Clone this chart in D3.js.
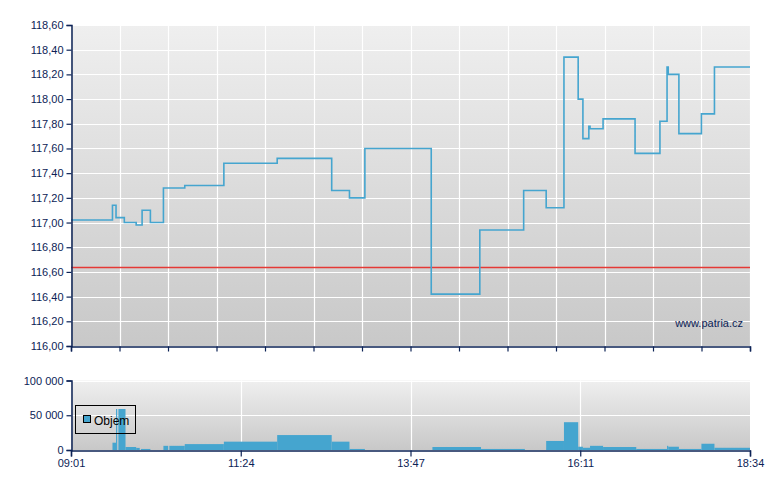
<!DOCTYPE html>
<html><head><meta charset="utf-8">
<script src="https://cdn.jsdelivr.net/npm/d3@7"></script>
<style>
body{margin:0;background:#fff;}
svg{display:block;font-family:"Liberation Sans",Arial,sans-serif;}
</style></head><body>
<svg id="c" width="780" height="490"></svg>
<script>
// ---- data ----
const priceTimes = ["09:01","09:36","09:39","09:46","09:56","10:01","10:08","10:19","10:37","11:10","11:55","12:41","12:56","13:09","14:05","14:46","15:23","15:42","15:57","16:09","16:13","16:18","16:19","16:30","16:57","17:18","17:24","17:25","17:34","17:53","18:04","18:34"];
const priceValues = [117.02,117.14,117.04,117.00,116.98,117.10,117.00,117.28,117.30,117.48,117.52,117.26,117.20,117.60,116.42,116.94,117.26,117.12,118.34,118.00,117.68,117.78,117.76,117.84,117.56,117.82,118.26,118.20,117.72,117.88,118.26,118.26];
const referencePrice = 116.64;

const volStart = ["09:36","09:39","09:41","09:47","09:56","10:00","10:19","10:24","10:37","11:10","11:55","12:41","12:56","14:06","14:47","15:42","15:57","16:09","16:13","16:19","16:30","16:58","17:24","17:25","17:34","17:53","18:04"];
const volEnd   = ["09:39","09:40","09:47","09:56","09:59","10:08","10:23","10:37","11:10","11:55","12:41","12:56","13:09","14:47","15:24","15:57","16:09","16:13","16:19","16:30","16:58","17:24","17:25","17:34","17:53","18:04","18:34"];
const volValues = [10500,59000,59000,4300,3000,1500,6000,6000,8500,12000,21500,12000,1500,4300,1500,13000,40000,4700,3200,6000,4300,1500,6000,4700,1500,9000,3200];

const priceTicks = [116.0,116.2,116.4,116.6,116.8,117.0,117.2,117.4,117.6,117.8,118.0,118.2,118.4,118.6];
const volTicks = [0,50000,100000];
const timeLabels = ["09:01","11:24","13:47","16:11","18:34"];
const legendLabel = "Objem";
const watermark = "www.patria.cz";

// ---- helpers ----
const toMin = s => { const [h,m] = s.split(":").map(Number); return h*60+m; };
const t0 = toMin(timeLabels[0]), t1 = toMin(timeLabels[timeLabels.length-1]);

const svg = d3.select("#c");
const L = 71, R = 750;
const x = d3.scaleLinear().domain([t0,t1]).range([L,R]);
const y = d3.scaleLinear().domain([116,118.6]).range([346,25]);
const yv = d3.scaleLinear().domain([0,100000]).range([450,380.5]);

const navy = "#0c2356";
const blue = "#45a5cf";

const defs = svg.append("defs");
const g1 = defs.append("linearGradient").attr("id","bg").attr("x1",0).attr("y1",0).attr("x2",0).attr("y2",1);
g1.append("stop").attr("offset","0%").attr("stop-color","#efefef");
g1.append("stop").attr("offset","100%").attr("stop-color","#c8c8c8");

// ---- upper chart ----
const up = svg.append("g");
up.append("rect").attr("x",L).attr("y",y(118.6)).attr("width",R-L).attr("height",y(116)-y(118.6)).attr("fill","url(#bg)");
const vgrid = d3.range(15).map(i => t0 + i*(t1-t0)/14);
up.selectAll("line.vg").data(vgrid.slice(1)).join("line").attr("class","vg")
  .attr("x1",d=>Math.round(x(d))+0.5).attr("x2",d=>Math.round(x(d))+0.5)
  .attr("y1",y(118.6)).attr("y2",y(116)).attr("stroke","#fff").attr("stroke-width",1.2);
up.selectAll("line.hg").data(priceTicks.slice(1)).join("line").attr("class","hg")
  .attr("x1",L).attr("x2",R)
  .attr("y1",d=>Math.round(y(d))+0.5).attr("y2",d=>Math.round(y(d))+0.5)
  .attr("stroke","#fff").attr("stroke-width",1.2);

up.append("text").attr("x",743).attr("y",327).attr("text-anchor","end")
  .attr("font-size",11).attr("fill",navy).text(watermark);

up.append("line").attr("class","refline").attr("x1",L).attr("x2",R)
  .attr("y1",Math.round(y(referencePrice))+0.5).attr("y2",Math.round(y(referencePrice))+0.5)
  .style("stroke","#e53935").style("stroke-width","1.3px");

const pdata = priceTimes.map((t,i)=>({t:toMin(t), v:priceValues[i]}));
up.append("path").datum(pdata)
  .attr("d", d3.line().x(d=>x(d.t)).y(d=>y(d.v)).curve(d3.curveStepAfter))
  .attr("fill","none").attr("stroke",blue).attr("stroke-width",1.6);

// y axis
const yAxis = d3.axisLeft(y).tickValues(priceTicks).tickSize(5).tickPadding(3)
  .tickFormat(d => d3.format(".2f")(d).replace(".",","));
up.append("g").attr("transform",`translate(${L+0.5},0)`).call(yAxis);
// x axis (upper, no labels)
up.append("g").attr("transform",`translate(0,${346.5})`)
  .call(d3.axisBottom(x).tickValues(vgrid).tickSize(5).tickFormat(""));

// ---- lower chart ----
const lo = svg.append("g");
lo.append("rect").attr("x",L).attr("y",yv(100000)).attr("width",R-L).attr("height",yv(0)-yv(100000)).attr("fill","url(#bg)");
const labelTimes = timeLabels.map((s,i)=> t0 + i*(t1-t0)/(timeLabels.length-1));
lo.selectAll("line.vg").data(labelTimes.slice(1,-1)).join("line").attr("class","vg")
  .attr("x1",d=>Math.round(x(d))+0.5).attr("x2",d=>Math.round(x(d))+0.5)
  .attr("y1",yv(100000)).attr("y2",yv(0)).attr("stroke","#fff").attr("stroke-width",1.2);
lo.selectAll("line.hg").data(volTicks.slice(1)).join("line").attr("class","hg")
  .attr("x1",L).attr("x2",R)
  .attr("y1",d=>Math.round(yv(d))+0.5).attr("y2",d=>Math.round(yv(d))+0.5)
  .attr("stroke","#fff").attr("stroke-width",1.2);

lo.selectAll("rect.bar").data(volValues.map((v,i)=>({s:toMin(volStart[i]), e:toMin(volEnd[i]), v}))).join("rect").attr("class","bar")
  .attr("x",d=>x(d.s)).attr("width",d=>Math.max(1,x(d.e)-x(d.s)))
  .attr("y",d=>yv(d.v)).attr("height",d=>yv(0)-yv(d.v)).attr("fill",blue);

lo.append("g").attr("transform",`translate(${L+0.5},0)`)
  .call(d3.axisLeft(yv).tickValues(volTicks).tickSize(5).tickPadding(3)
  .tickFormat(d => d3.format(",")(d).replace(/,/g," ")));
lo.append("g").attr("transform",`translate(0,${450.5})`)
  .call(d3.axisBottom(x).tickValues(labelTimes).tickSize(6).tickPadding(3)
  .tickFormat((d,i)=>timeLabels[i]));

// legend
const lg = lo.append("g");
lg.append("rect").attr("x",75.5).attr("y",405.5).attr("width",60).attr("height",28)
  .attr("fill","none").attr("stroke","#000").attr("stroke-width",1);
lg.append("rect").attr("x",83.5).attr("y",415.5).attr("width",7).attr("height",7)
  .attr("fill",blue).attr("stroke","#000").attr("stroke-width",1);
lg.append("text").attr("x",94).attr("y",424.5).attr("font-size",12).attr("fill","#000").text(legendLabel);

// axis styling
svg.selectAll(".domain").attr("stroke",navy).attr("stroke-width",1.5);
svg.selectAll(".tick line").attr("stroke",navy).attr("stroke-width",1.2);
svg.selectAll(".tick text").attr("fill",navy).attr("font-size",11).attr("font-family","Liberation Sans, Arial, sans-serif");
</script>
</body></html>
